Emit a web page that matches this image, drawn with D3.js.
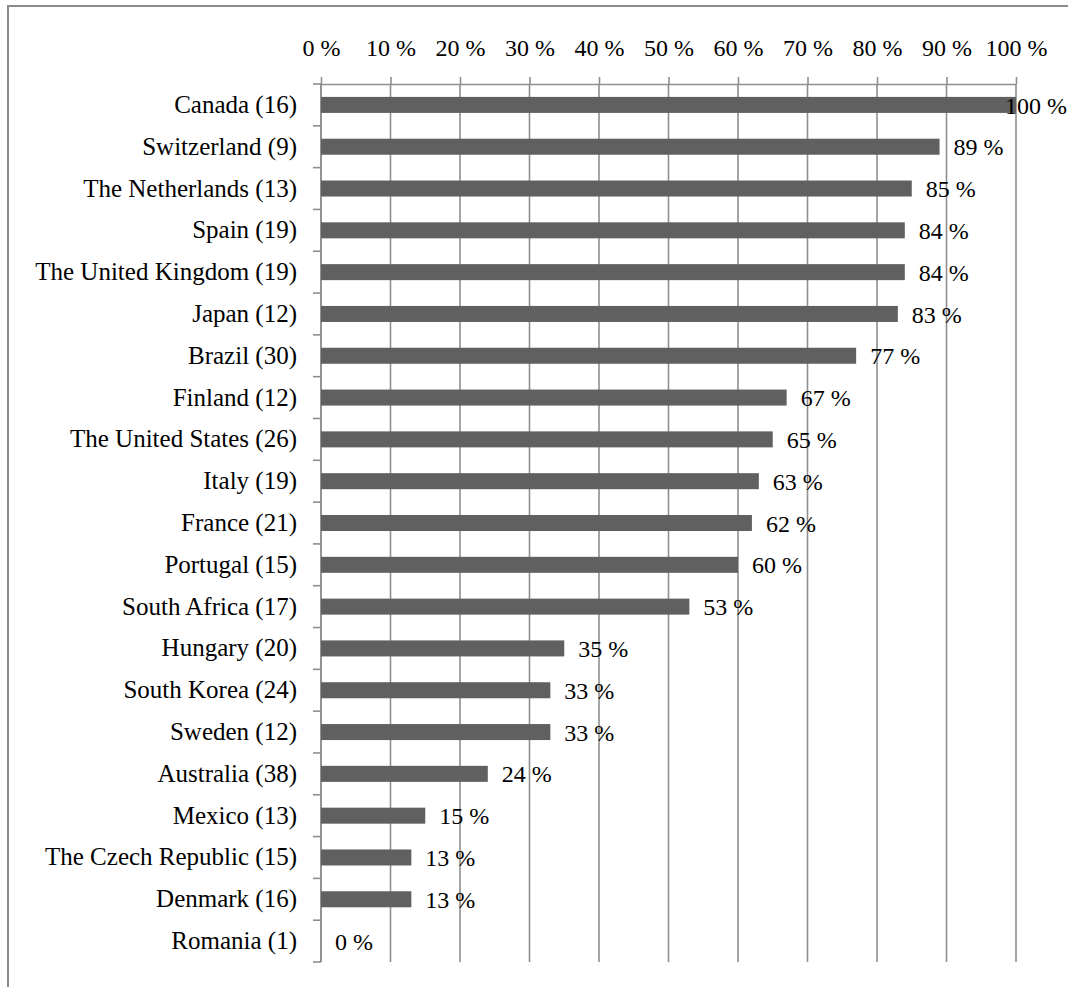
<!DOCTYPE html>
<html>
<head>
<meta charset="utf-8">
<script src="https://cdn.jsdelivr.net/npm/d3@7"></script>
<style>
  html, body { margin: 0; padding: 0; background: #fff; }
  svg { display: block; }
  text { font-family: "Liberation Serif", "Times New Roman", serif; fill: #000; }
</style>
</head>
<body>
<svg id="chart" width="1068" height="987"></svg>
<script>
// Share per country (number of respondents in parentheses)
const countries = [
  "Canada (16)", "Switzerland (9)", "The Netherlands (13)", "Spain (19)",
  "The United Kingdom (19)", "Japan (12)", "Brazil (30)", "Finland (12)",
  "The United States (26)", "Italy (19)", "France (21)", "Portugal (15)",
  "South Africa (17)", "Hungary (20)", "South Korea (24)", "Sweden (12)",
  "Australia (38)", "Mexico (13)", "The Czech Republic (15)", "Denmark (16)",
  "Romania (1)"
];
const shares = [100, 89, 85, 84, 84, 83, 77, 67, 65, 63, 62, 60, 53, 35, 33, 33, 24, 15, 13, 13, 0];
const tickValues = [0, 10, 20, 30, 40, 50, 60, 70, 80, 90, 100];

(function drawChart() {
  const W = 1068, H = 987;
  const svg = d3.select("#chart");
  const gridColor = "#8f8f8f";
  const barColor = "#606060";

  // outer frame
  svg.append("rect")
    .attr("x", 8).attr("y", 6)
    .attr("width", W + 20).attr("height", H + 20)
    .attr("fill", "none").attr("stroke", "#8c8c8c").attr("stroke-width", 2);

  const plotLeft = 321, plotRight = 1016, plotTop = 84, plotBottom = 962;

  const x = d3.scaleLinear().domain([0, 100]).range([plotLeft, plotRight]);
  const y = d3.scaleBand().domain(countries).range([plotTop, plotBottom])
    .paddingInner(0.617).paddingOuter(0.3085);

  // vertical gridlines
  svg.append("g").selectAll("line")
    .data(tickValues)
    .join("line")
    .attr("x1", d => x(d)).attr("x2", d => x(d))
    .attr("y1", plotTop).attr("y2", plotBottom)
    .attr("stroke", gridColor).attr("stroke-width", 1.6);

  // top axis
  const xAxis = svg.append("g")
    .attr("transform", `translate(0,${plotTop})`)
    .call(d3.axisTop(x).tickValues(tickValues).tickSize(7).tickPadding(21)
      .tickSizeOuter(0).tickFormat(d => d + " %"));
  xAxis.select(".domain").attr("stroke", gridColor).attr("stroke-width", 1.6);
  xAxis.selectAll(".tick line").attr("stroke", gridColor).attr("stroke-width", 1.6);
  xAxis.selectAll(".tick text")
    .style("font-family", '"Liberation Serif", "Times New Roman", serif')
    .style("font-size", "24px").attr("fill", "#000");

  // left axis: line, boundary ticks, category labels
  const yAxis = svg.append("g")
    .attr("transform", `translate(${plotLeft},0)`)
    .call(d3.axisLeft(y).tickSize(0).tickPadding(24));
  yAxis.select(".domain").remove();
  yAxis.selectAll(".tick text")
    .style("font-family", '"Liberation Serif", "Times New Roman", serif')
    .style("font-size", "25px").attr("fill", "#000");

  svg.append("line")
    .attr("x1", plotLeft).attr("x2", plotLeft).attr("y1", plotTop).attr("y2", plotBottom)
    .attr("stroke", gridColor).attr("stroke-width", 1.6);
  svg.append("g").selectAll("line")
    .data(d3.range(countries.length + 1))
    .join("line")
    .attr("x1", plotLeft - 8).attr("x2", plotLeft)
    .attr("y1", i => plotTop + i * y.step()).attr("y2", i => plotTop + i * y.step())
    .attr("stroke", gridColor).attr("stroke-width", 1.6);

  // bars
  svg.append("g").selectAll("rect")
    .data(countries)
    .join("rect")
    .attr("x", x(0))
    .attr("y", d => y(d))
    .attr("width", (d, i) => x(shares[i]) - x(0))
    .attr("height", y.bandwidth())
    .attr("fill", barColor);

  // value labels
  svg.append("g").selectAll("text")
    .data(countries)
    .join("text")
    .attr("x", (d, i) => x(shares[i]) + 14)
    .attr("y", d => y(d) + y.bandwidth() / 2)
    .attr("dy", "0.36em")
    .style("font-size", "24px")
    .text((d, i) => shares[i] + " %")
    .each(function () {
      const w = this.getComputedTextLength();
      const cur = +this.getAttribute("x");
      if (cur + w > W - 1) this.setAttribute("x", W - 1 - w);
    });
})();
</script>
</body>
</html>
